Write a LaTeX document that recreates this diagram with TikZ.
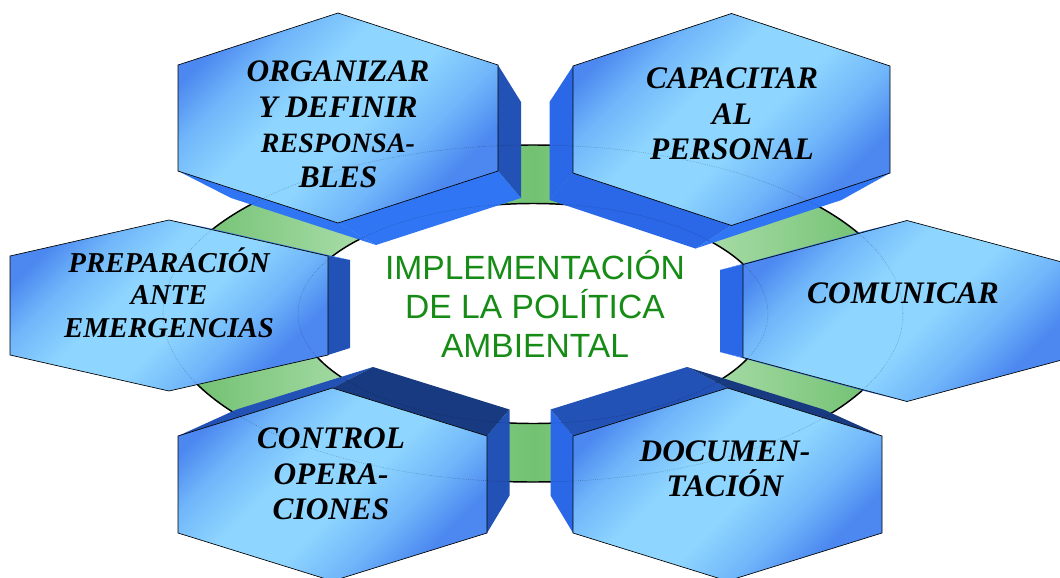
\documentclass[tikz,border=0pt]{standalone}
\usepackage{fontspec}
\setmainfont{Liberation Serif}
\newfontfamily\arial{Liberation Sans}

\definecolor{hexclaro}{RGB}{142,213,255}
\definecolor{hexmedio}{RGB}{112,182,250}
\definecolor{hexosc}{RGB}{76,136,240}
\definecolor{ladoA}{RGB}{34,82,181}
\definecolor{ladoB}{RGB}{48,118,244}
\definecolor{ladoC}{RGB}{24,58,128}
\definecolor{ladoL}{RGB}{42,104,232}
\definecolor{verdeosc}{RGB}{104,188,104}
\definecolor{verdecla}{RGB}{164,218,164}
\definecolor{verdemed}{RGB}{114,194,114}
\definecolor{titulo}{RGB}{22,140,22}

\pgfdeclarehorizontalshading{anillo}{100bp}{color(0bp)=(verdeosc); color(25bp)=(verdeosc);
  color(37.5bp)=(verdecla); color(50bp)=(verdemed); color(62.5bp)=(verdecla);
  color(75bp)=(verdeosc); color(100bp)=(verdeosc)}
\pgfdeclareverticalshading{cara}{100bp}{color(0bp)=(hexosc); color(27bp)=(hexosc);
  color(36bp)=(hexmedio); color(46bp)=(hexclaro); color(58bp)=(hexclaro);
  color(68bp)=(hexmedio); color(76bp)=(hexosc); color(100bp)=(hexosc)}

% vertices: nombre, centro x, centro y, semiancho, semilado, punta
\newcommand{\hexa}[6]{%
  \coordinate (#1-1) at ({#2-#4},{#3-#5});
  \coordinate (#1-2) at (#2,{#3-#6});
  \coordinate (#1-3) at ({#2+#4},{#3-#5});
  \coordinate (#1-4) at ({#2+#4},{#3+#5});
  \coordinate (#1-5) at (#2,{#3+#6});
  \coordinate (#1-6) at ({#2-#4},{#3+#5});
}
% cara lateral entre frente y fondo
\newcommand{\cara}[4]{\fill[#4] (#1-#2) -- (#1-#3) -- (#1b-#3) -- (#1b-#2) -- cycle;}
% cara frontal
\newcommand{\frente}[1]{\draw[frontal] (#1-1) -- (#1-2) -- (#1-3) -- (#1-4) -- (#1-5) -- (#1-6) -- cycle;}

\begin{document}
\begin{tikzpicture}[x=0.75pt,y=-0.75pt,
  frontal/.style={draw=black,line width=0.5pt,shading=cara,shading angle=45},
  etiqueta/.style={font=\fontsize{23.5}{26.5}\selectfont\bfseries\itshape,align=center,inner sep=0pt}]

\useasboundingbox (0,0) rectangle (1060,578);
\clip (0,0) rectangle (1060,578);

\coordinate (c) at (533,313.5);

% anillo
\path[draw=black,line width=1.1pt,shading=anillo,even odd rule]
  (c) ellipse [x radius=370, y radius=168.5]
  (c) ellipse [x radius=235, y radius=110];

% arriba
\hexa{org}{338}{118}{160}{53}{105}
\hexa{orgb}{376}{150}{145}{48}{95}
\cara{org}{3}{4}{ladoA}
\cara{org}{4}{5}{ladoB}
\cara{org}{5}{6}{ladoB}
\frente{org}

\hexa{cap}{731.5}{119.5}{158.5}{53.5}{106}
\hexa{capb}{695.5}{151}{146}{49}{97.5}
\cara{cap}{6}{1}{ladoL}
\cara{cap}{5}{6}{ladoL}
\cara{cap}{4}{5}{ladoB}
\frente{cap}

% lados
\hexa{pre}{169}{305.5}{159}{49.5}{85.5}
\hexa{preb}{208.5}{304}{141.5}{44}{76}
\cara{pre}{2}{3}{ladoB}
\cara{pre}{3}{4}{ladoA}
\frente{pre}

\hexa{com}{907}{311}{164}{46.5}{90.5}
\hexa{comb}{864}{311}{144}{41}{80}
\cara{com}{6}{1}{ladoL}
\cara{com}{1}{2}{ladoB}
\cara{com}{5}{6}{ladoB}
\frente{com}

% abajo
\hexa{ctl}{332.5}{484.5}{154.5}{48.5}{96.5}
\hexa{ctlb}{373}{452.5}{136.5}{43}{85.5}
\cara{ctl}{1}{2}{ladoA}
\cara{ctl}{2}{3}{ladoC}
\cara{ctl}{3}{4}{ladoA}
\frente{ctl}

\hexa{doc}{727.5}{484.5}{154.5}{48.5}{96.5}
\hexa{docb}{687}{452.5}{136.5}{43}{85.5}
\cara{doc}{1}{2}{ladoA}
\cara{doc}{2}{3}{ladoC}
\cara{doc}{6}{1}{ladoL}
\frente{doc}

% bordes del anillo vistos a traves
\draw[densely dotted,black,opacity=0.35,line width=0.4pt]
  (c) ellipse [x radius=370, y radius=168.5]
  (c) ellipse [x radius=235, y radius=110];

\node[etiqueta] (organizar) at (338,124.5)
  {ORGANIZAR\\Y DEFINIR\\\fontsize{21}{26}\selectfont RESPONSA-\\BLES};
\node[etiqueta] (capacitar) at (732,114) {CAPACITAR\\AL\\PERSONAL};
\node[etiqueta,font=\fontsize{21.6}{24.5}\selectfont\bfseries\itshape] (preparacion) at (169,292.5)
  {PREPARACIÓN\\ANTE\\EMERGENCIAS};
\node[etiqueta] (comunicar) at (903,293) {COMUNICAR};
\node[etiqueta] (control) at (331,474) {CONTROL\\OPERA-\\CIONES};
\node[etiqueta] (documentacion) at (725,469) {DOCUMEN-\\TACIÓN};

\node[align=center,inner sep=0pt,text=titulo,font=\arial\fontsize{25.2}{29}\selectfont] (centro) at (535,304)
  {IMPLEMENTACIÓN\\DE LA POLÍTICA\\AMBIENTAL};

\end{tikzpicture}
\end{document}
